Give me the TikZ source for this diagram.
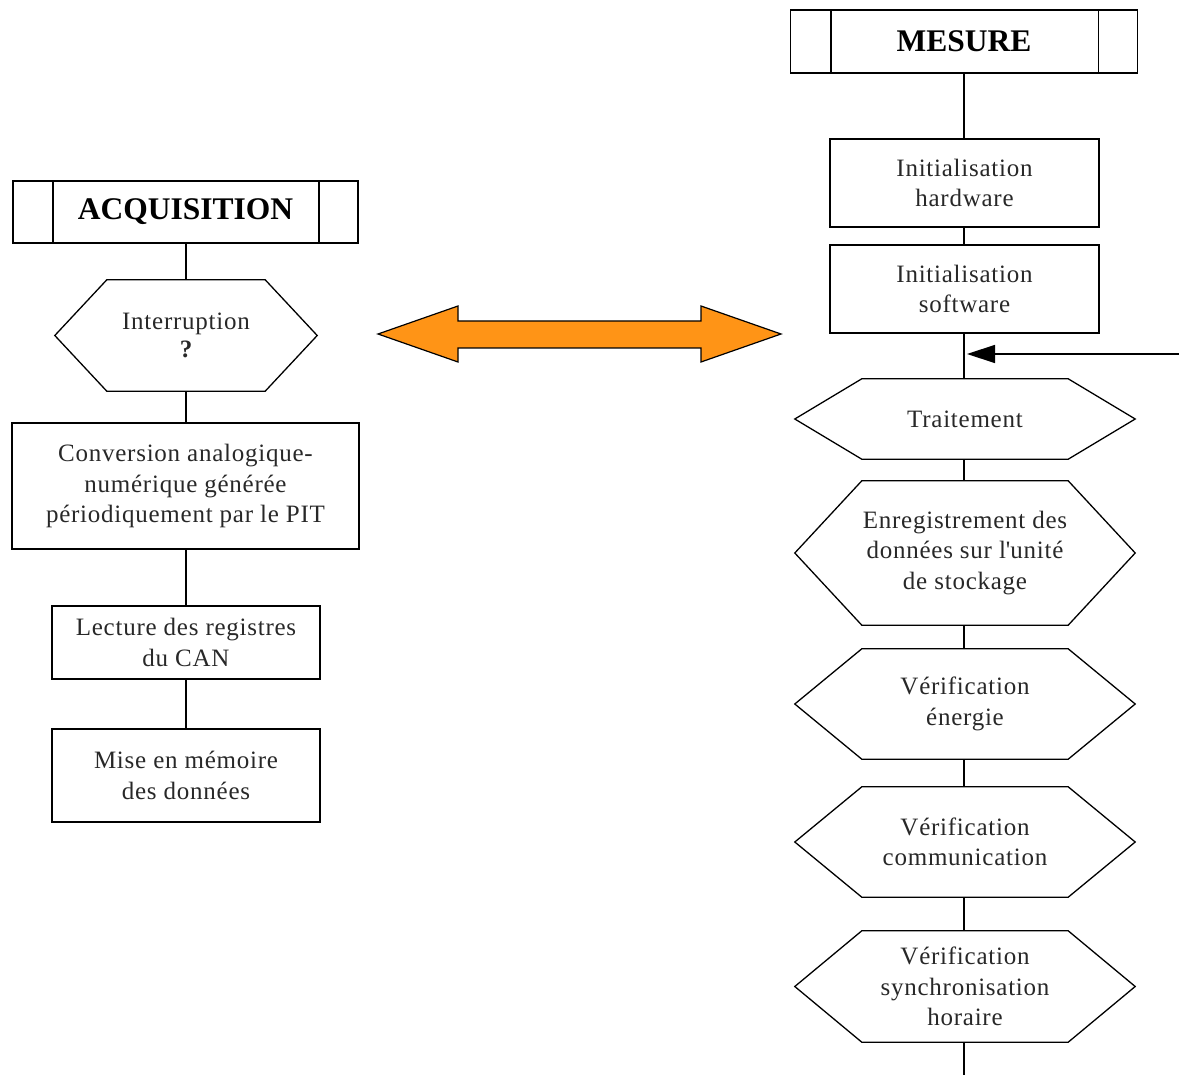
\documentclass[tikz,border=0pt]{standalone}
\usepackage{fontspec}
\setmainfont{Liberation Serif}[LetterSpace=3]
\newfontfamily\hdfont{Liberation Serif}
\usetikzlibrary{arrows.meta,calc}
\definecolor{arrorange}{RGB}{255,148,22}
\definecolor{txt}{RGB}{40,40,40}
\newcommand{\sq}{\XeTeXglyph\XeTeXcharglyph"27\relax}
\newcommand{\hexpath}[2]{%
  \draw[hexline] ([xshift=#2]#1.north west) -- ([xshift=-#2]#1.north east) -- (#1.east)
    -- ([xshift=-#2]#1.south east) -- ([xshift=#2]#1.south west) -- (#1.west) -- cycle;}
\newcommand{\headlines}[1]{%
  \draw[boxline] ([xshift=41]#1.north west) -- ([xshift=41]#1.south west);
  \draw[boxline] ([xshift=-40]#1.north east) -- ([xshift=-40]#1.south east);}
\begin{document}
\begin{tikzpicture}[x=1pt,y=-1pt,
  boxline/.style={line width=1.8pt,black},
  hexline/.style={line width=1.3pt,black},
  conn/.style={line width=1.7pt,black},
  txtstyle/.style={text=txt,align=center,font=\fontsize{25}{30.5}\selectfont},
  procbox/.style={draw,boxline,rectangle,inner sep=0pt,txtstyle},
  hexnode/.style={rectangle,inner sep=0pt,txtstyle},
  header/.style={draw,boxline,rectangle,inner sep=0pt,font=\hdfont\bfseries\fontsize{31.5}{36}\selectfont}
]
\useasboundingbox (0,0) rectangle (1179,1075);

% ---------- left column ----------
\coordinate (lx) at (186,0);
\node[header,minimum width=345pt,minimum height=62pt] (acq) at (185.5,212) {ACQUISITION};
\headlines{acq}
\node[hexnode,minimum width=262pt,minimum height=111pt] (intr) at (186,335.5)
  {Interruption\\[-2pt]{\bfseries ?}};
\hexpath{intr}{52}
\node[procbox,minimum width=347pt,minimum height=126pt] (conv) at (185.5,486)
  {Conversion analogique-\\num\'erique g\'en\'er\'ee\\p\'eriodiquement par le PIT};
\node[procbox,minimum width=268pt,minimum height=73pt] (lect) at (186,642.5)
  {Lecture des registres\\du CAN};
\node[procbox,minimum width=268pt,minimum height=93pt] (mise) at (186,775.5)
  {Mise en m\'emoire\\des donn\'ees};

\draw[conn] (acq.south -| lx) -- (intr.north -| lx);
\draw[conn] (intr.south -| lx) -- (conv.north -| lx);
\draw[conn] (conv.south -| lx) -- (lect.north -| lx);
\draw[conn] (lect.south -| lx) -- (mise.north -| lx);

% ---------- double arrow ----------
\coordinate (dl) at (378,334);
\coordinate (dr) at (781,334);
\filldraw[fill=arrorange,draw=black,line width=1.2pt]
  (dl) -- ($(dl)+(80,-28)$) -- ($(dl)+(80,-13)$) -- ($(dr)+(-80,-13)$) -- ($(dr)+(-80,-28)$)
  -- (dr) -- ($(dr)+(-80,28)$) -- ($(dr)+(-80,14)$) -- ($(dl)+(80,14)$) -- ($(dl)+(80,28)$) -- cycle;

% ---------- right column ----------
\node[header,minimum width=347pt,minimum height=63pt] (mes) at (964,41.5) {MESURE};
\headlines{mes}
\node[procbox,minimum width=269pt,minimum height=88pt] (hw) at (964.5,183)
  {Initialisation\\hardware};
\node[procbox,minimum width=269pt,minimum height=88pt] (sw) at (964.5,289)
  {Initialisation\\software};
\node[hexnode,minimum width=340pt,minimum height=80pt] (trt) at (965,419) {Traitement};
\hexpath{trt}{67}
\node[hexnode,minimum width=340pt,minimum height=144pt] (enr) at (965,553)
  {Enregistrement des\\donn\'ees sur l\sq unit\'e\\de stockage};
\hexpath{enr}{67}
\node[hexnode,minimum width=340pt,minimum height=110pt] (ene) at (965,704)
  {V\'erification\\\'energie};
\hexpath{ene}{67}
\node[hexnode,minimum width=340pt,minimum height=110pt] (com) at (965,842)
  {V\'erification\\communication};
\hexpath{com}{67}
\node[hexnode,minimum width=340pt,minimum height=111pt] (syn) at (965,986.5)
  {V\'erification\\synchronisation\\horaire};
\hexpath{syn}{67}
\coordinate (bot) at (964,1075);
\coordinate (loopin) at (1179,354);
\coordinate (join) at (964,354);

\draw[conn] (mes.south -| join) -- (hw.north -| join);
\draw[conn] (hw.south -| join) -- (sw.north -| join);
\draw[conn] (sw.south -| join) -- (trt.north -| join);
\draw[conn] (trt.south -| join) -- (enr.north -| join);
\draw[conn] (enr.south -| join) -- (ene.north -| join);
\draw[conn] (ene.south -| join) -- (com.north -| join);
\draw[conn] (com.south -| join) -- (syn.north -| join);
\draw[conn] (syn.south -| join) -- (bot);
\draw[line width=1.4pt,-{Triangle[length=28pt,width=18pt]},shorten >=3pt] (loopin) -- (join);
\end{tikzpicture}
\end{document}
